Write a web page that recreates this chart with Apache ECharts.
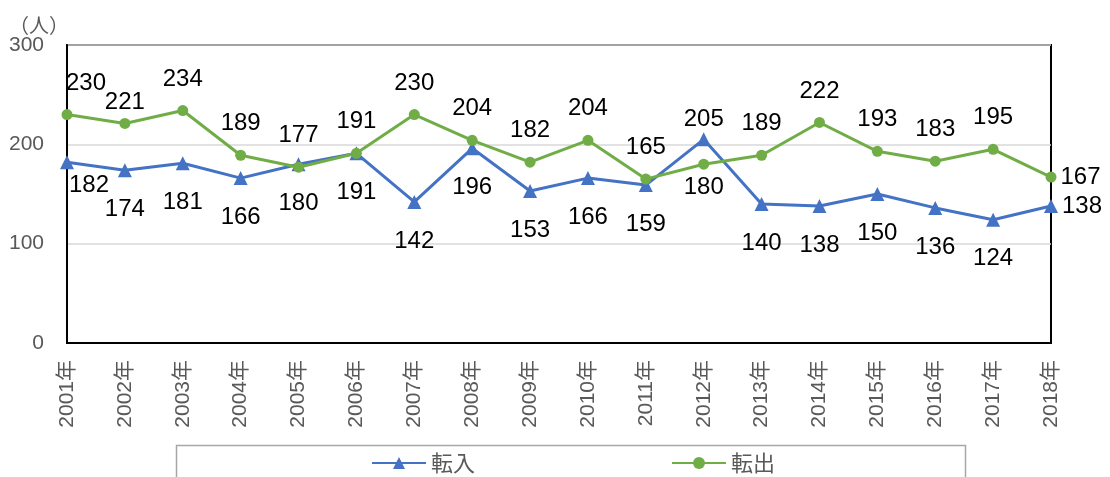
<!DOCTYPE html>
<html>
<head>
<meta charset="utf-8">
<script src="https://cdn.jsdelivr.net/npm/echarts@6/dist/echarts.min.js"></script>
<style>
  html, body { margin: 0; padding: 0; background: #fff; }
  #chart { width: 1110px; height: 477px; }
</style>
</head>
<body>
<div id="chart"></div>
<script>
// 年ごとの転入・転出（人）
const years = ['2001年', '2002年', '2003年', '2004年', '2005年', '2006年', '2007年', '2008年', '2009年',
  '2010年', '2011年', '2012年', '2013年', '2014年', '2015年', '2016年', '2017年', '2018年'];
const tennyu = [182, 174, 181, 166, 180, 191, 142, 196, 153, 166, 159, 205, 140, 138, 150, 136, 124, 138];
const tenshutsu = [230, 221, 234, 189, 177, 191, 230, 204, 182, 204, 165, 180, 189, 222, 193, 183, 195, 167];

const FONT = '"Liberation Sans", "Noto Sans CJK JP", sans-serif';
const JP = '"Noto Sans CJK JP", sans-serif';
const last = years.length - 1;

// ラベル位置の個別調整（Excelの配置に合わせる）
function items(values, isIn) {
  return values.map((v, i) => {
    const label = {};
    if (i === 0) label.offset = isIn ? [22, -16] : [19, 0];
    if (i === 1 && !isIn) label.offset = [0, 10];
    if (i === 11) {
      label.position = isIn ? 'top' : 'bottom';
      label.distance = isIn ? 1 : 6;
    }
    if (i === last) { label.position = 'right'; label.distance = 4; }
    return { value: v, label };
  });
}

const chart = echarts.init(document.getElementById('chart'));
chart.setOption({
  animation: false,
  textStyle: { fontFamily: FONT },
  title: {
    text: '（人）', left: 9, top: 15, padding: 0,
    textStyle: { fontFamily: JP, fontSize: 20, fontWeight: 'normal', color: '#595959' }
  },
  grid: {
    left: 67, right: 59, top: 45, bottom: 134,
    show: true, borderColor: '#000', borderWidth: 2, backgroundColor: 'transparent'
  },
  xAxis: {
    type: 'category', data: years, boundaryGap: false,
    axisLine: { lineStyle: { color: '#000', width: 2 } },
    axisTick: { show: false },
    axisLabel: { rotate: 90, interval: 0, margin: 17, fontSize: 21, color: '#595959', fontFamily: FONT }
  },
  yAxis: {
    type: 'value', min: 0, max: 300, interval: 100,
    axisLine: { show: true, lineStyle: { color: '#000', width: 2 } },
    axisTick: { show: false },
    splitLine: { lineStyle: { color: '#d9d9d9', width: 1.5 } },
    axisLabel: { margin: 23, fontSize: 21, color: '#595959', fontFamily: FONT }
  },
  legend: {
    data: ['転入', '転出'], left: 371, top: 452, itemGap: 196, padding: 0,
    itemWidth: 54, itemHeight: 15,
    textStyle: { fontFamily: JP, fontSize: 22, color: '#595959' }
  },
  graphic: [{
    type: 'rect', shape: { x: 176.5, y: 445.5, width: 789, height: 60 },
    style: { fill: 'none', stroke: '#a6a6a6', lineWidth: 1.5 }, silent: true
  }],
  series: [
    {
      name: '転入', type: 'line', data: items(tennyu, true),
      symbol: 'triangle', symbolSize: 14,
      lineStyle: { color: '#4472C4', width: 3 },
      itemStyle: { color: '#4472C4' },
      label: { show: true, position: 'bottom', distance: 20, fontSize: 24, color: '#000' }
    },
    {
      name: '転出', type: 'line', data: items(tenshutsu, false),
      symbol: 'circle', symbolSize: 11,
      lineStyle: { color: '#70AD47', width: 3 },
      itemStyle: { color: '#70AD47' },
      label: { show: true, position: 'top', distance: 14, fontSize: 24, color: '#000' }
    }
  ]
});
</script>
</body>
</html>
